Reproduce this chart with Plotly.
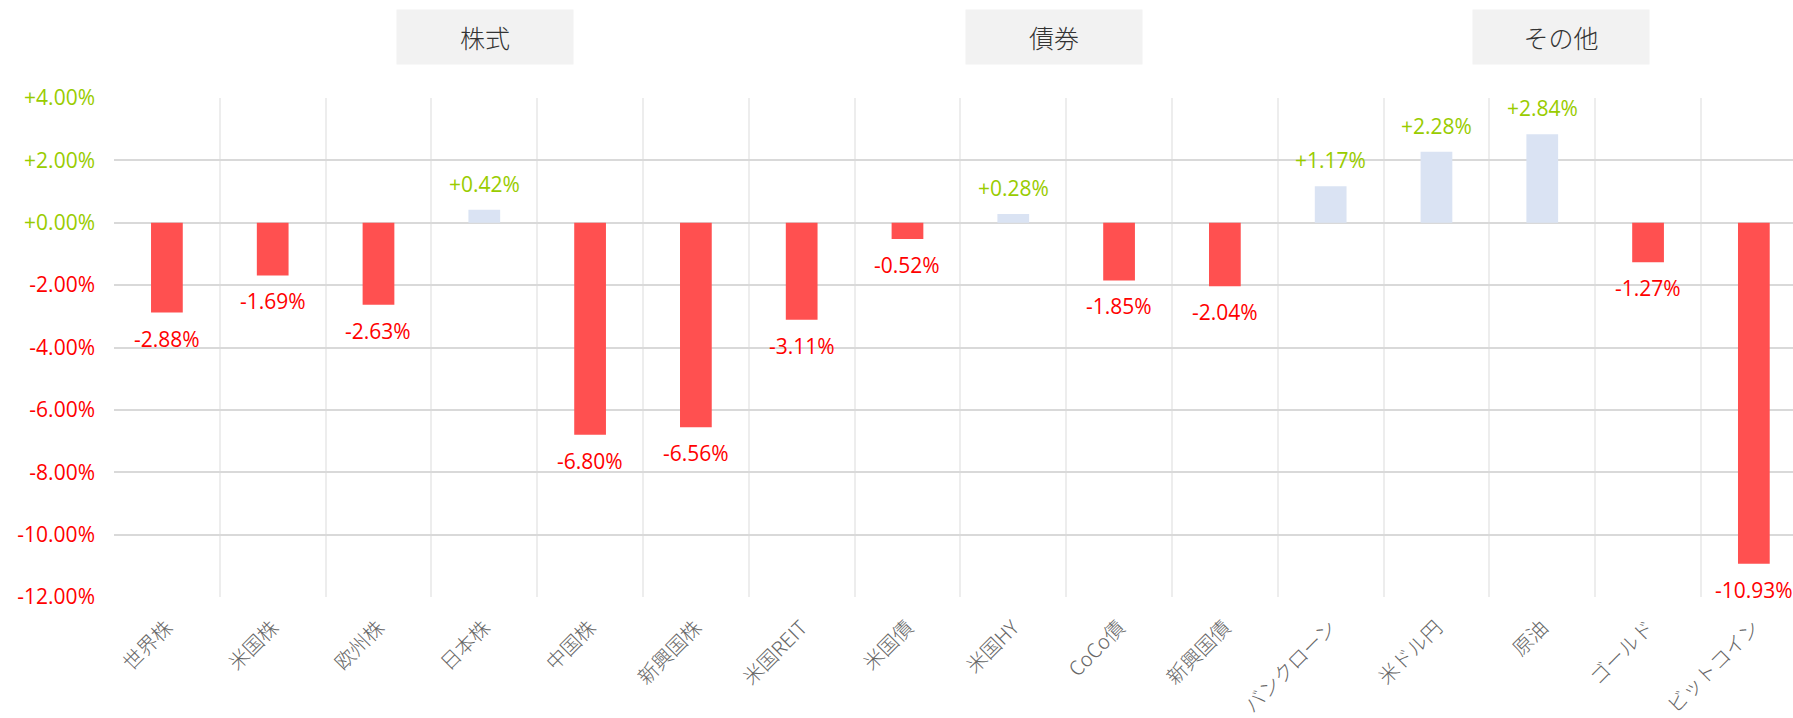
import plotly.graph_objects as go

categories = ["世界株", "米国株", "欧州株", "日本株", "中国株", "新興国株", "米国REIT",
              "米国債", "米国HY", "CoCo債", "新興国債", "バンクローン", "米ドル円",
              "原油", "ゴールド", "ビットコイン"]
values = [-2.88, -1.69, -2.63, 0.42, -6.80, -6.56, -3.11,
          -0.52, 0.28, -1.85, -2.04, 1.17, 2.28, 2.84, -1.27, -10.93]
y_ticks = [4, 2, 0, -2, -4, -6, -8, -10, -12]
groups = ["株式", "債券", "その他"]
group_pos = [0.2212, 0.5597, 0.8620]

POS = "#99CC00"
NEG = "#FF0000"
BAR_POS = "#DAE3F3"
BAR_NEG = "#FF5050"
NUM_FONT = "Open Sans"
JP_FONT = "Noto Sans CJK JP"

fig = go.Figure()
fig.add_trace(go.Bar(
    x=categories, y=values, width=0.3,
    marker=dict(color=[BAR_POS if v >= 0 else BAR_NEG for v in values], line=dict(width=0)),
    hoverinfo="skip",
))

annotations = []
for c, v in zip(categories, values):
    annotations.append(dict(
        x=c, y=v, xref="x", yref="y", text=f"{v:+.2f}%", showarrow=False,
        yanchor="middle", yshift=26 if v >= 0 else -26,
        font=dict(family=NUM_FONT, size=21, color=POS if v >= 0 else NEG),
    ))
for g, px in zip(groups, group_pos):
    annotations.append(dict(
        x=px, y=1.1222, xref="paper", yref="paper", text=g, showarrow=False,
        xanchor="center", yanchor="middle", width=176, height=54,
        bgcolor="#F2F2F2", borderpad=0,
        font=dict(family=JP_FONT, size=25, color="#333333", weight=300),
    ))

ticktext = [f"<span style='color:{POS if t >= 0 else NEG}'>{t:+.2f}%</span>" for t in y_ticks]

fig.update_layout(
    width=1793, height=718,
    margin=dict(l=114, r=0, t=98, b=121),
    paper_bgcolor="white", plot_bgcolor="white",
    showlegend=False,
    annotations=annotations,
    xaxis=dict(
        type="category", range=[-0.5, 15.37], tickson="boundaries",
        showgrid=True, gridcolor="#EDEDED", gridwidth=2,
        tickangle=-45, ticks="", ticklabelstandoff=14,
        tickfont=dict(family=JP_FONT, size=20, color="#666666", weight=300),
        showline=False, zeroline=False, fixedrange=True,
    ),
    yaxis=dict(
        range=[-12, 4], tickvals=y_ticks, ticktext=ticktext,
        showgrid=True, gridcolor="#D9D9D9", gridwidth=2,
        zeroline=True, zerolinecolor="#D9D9D9", zerolinewidth=2,
        ticks="", ticklabelstandoff=18,
        tickfont=dict(family=NUM_FONT, size=21),
        showline=False, fixedrange=True,
    ),
)

fig.write_html("out.html", config={"displayModeBar": False})
with open("out.html", "r", encoding="utf-8") as f:
    html = f.read()
html = html.replace("<head>", "<head><style>html,body{margin:0;padding:0;overflow:hidden}</style>", 1)
with open("out.html", "w", encoding="utf-8") as f:
    f.write(html)
